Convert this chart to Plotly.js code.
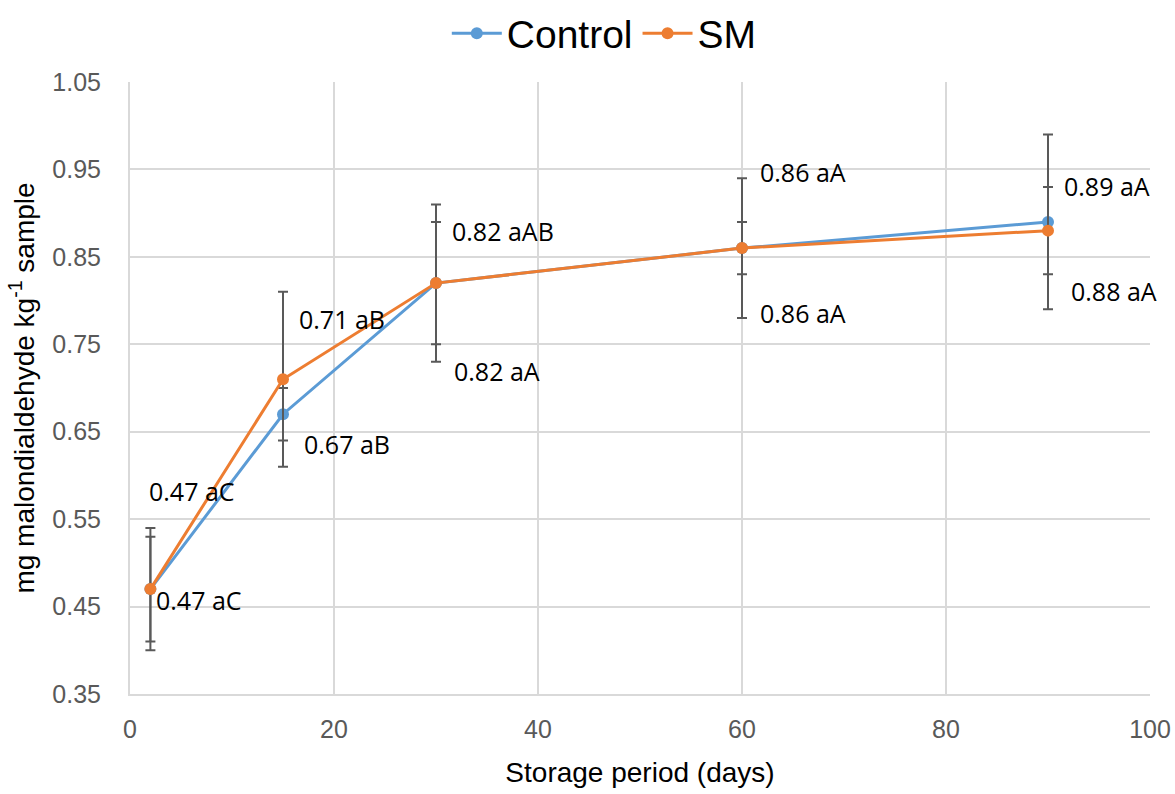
<!DOCTYPE html>
<html><head><meta charset="utf-8">
<script src="https://cdn.plot.ly/plotly-3.0.1.min.js"></script>
<style>body{margin:0;background:#fff}#chart{width:1175px;height:794px}</style>
</head><body><div id="chart"></div>
<script>
const days = [2, 15, 30, 60, 90];
const controlValues = [0.47, 0.67, 0.82, 0.86, 0.89];
const controlErrors = [0.06, 0.03, 0.07, 0.03, 0.10];
const smValues = [0.47, 0.71, 0.82, 0.86, 0.88];
const smErrors = [0.07, 0.10, 0.09, 0.08, 0.05];
const controlLabels = ['0.47 aC', '0.67 aB', '0.82 aA', '0.86 aA', '0.89 aA'];
const smLabels = ['0.47 aC', '0.71 aB', '0.82 aAB', '0.86 aA', '0.88 aA'];

// label placement (layout only): [x, y] in data coords
const controlLabelPos = [[2.4, 0.457], [16.9, 0.636], [31.6, 0.719], [61.6, 0.786], [91.4, 0.931]];
const smLabelPos = [[1.7, 0.582], [16.4, 0.779], [31.4, 0.880], [61.6, 0.947], [92.1, 0.811]];

const errStyle = {type: 'data', visible: true, color: '#595959', thickness: 2, width: 5};

const traces = [
  {x: days, y: controlValues, name: 'Control', type: 'scatter', mode: 'lines+markers',
   line: {color: '#5B9BD5', width: 3}, marker: {color: '#5B9BD5', size: 12},
   error_y: Object.assign({array: controlErrors}, errStyle)},
  {x: days, y: smValues, name: 'SM', type: 'scatter', mode: 'lines+markers',
   line: {color: '#ED7D31', width: 3}, marker: {color: '#ED7D31', size: 12},
   error_y: Object.assign({array: smErrors}, errStyle)}
];

const labelFont = {family: 'Open Sans, Noto Sans, sans-serif', size: 25, color: '#000'};
const annotations = [];
controlLabels.forEach((t, i) => annotations.push({x: controlLabelPos[i][0], y: controlLabelPos[i][1], text: t,
  showarrow: false, xanchor: 'left', yanchor: 'middle', font: labelFont}));
smLabels.forEach((t, i) => annotations.push({x: smLabelPos[i][0], y: smLabelPos[i][1], text: t,
  showarrow: false, xanchor: 'left', yanchor: 'middle', font: labelFont}));

const layout = {
  width: 1175, height: 794,
  margin: {l: 130, r: 25, t: 82, b: 100, autoexpand: false},
  paper_bgcolor: '#fff', plot_bgcolor: '#fff',
  font: {family: 'Liberation Sans, Arial, sans-serif'},
  showlegend: true,
  legend: {orientation: 'h', x: 0.465, xanchor: 'center', yref: 'container', y: 0.958, yanchor: 'middle',
    font: {size: 39, color: '#000', family: 'Liberation Sans, Arial, sans-serif'}, itemwidth: 50},
  xaxis: {range: [0, 100], dtick: 20, tick0: 0, showgrid: true, gridcolor: '#d9d9d9', gridwidth: 2,
    zeroline: false, showline: true, linecolor: '#d9d9d9', linewidth: 2, ticks: '',
    tickfont: {size: 25, color: '#595959'}, ticklabelstandoff: 12,
    title: {text: 'Storage period (days)', font: {size: 28, color: '#000'}, standoff: 20}},
  yaxis: {range: [0.35, 1.05], dtick: 0.1, tick0: 0.35, tickformat: '.2f', showgrid: true,
    gridcolor: '#d9d9d9', gridwidth: 2, zeroline: false, showline: true, linecolor: '#d9d9d9', linewidth: 2,
    ticks: '', tickfont: {size: 25, color: '#595959'}, ticklen: 0, ticklabelstandoff: 22,
    title: {text: 'mg malondialdehyde kg<sup>-1</sup> sample', font: {size: 28, color: '#000'}, standoff: 10}},
  annotations: annotations
};

Plotly.newPlot('chart', traces, layout, {displayModeBar: false, staticPlot: true});
</script></body></html>
